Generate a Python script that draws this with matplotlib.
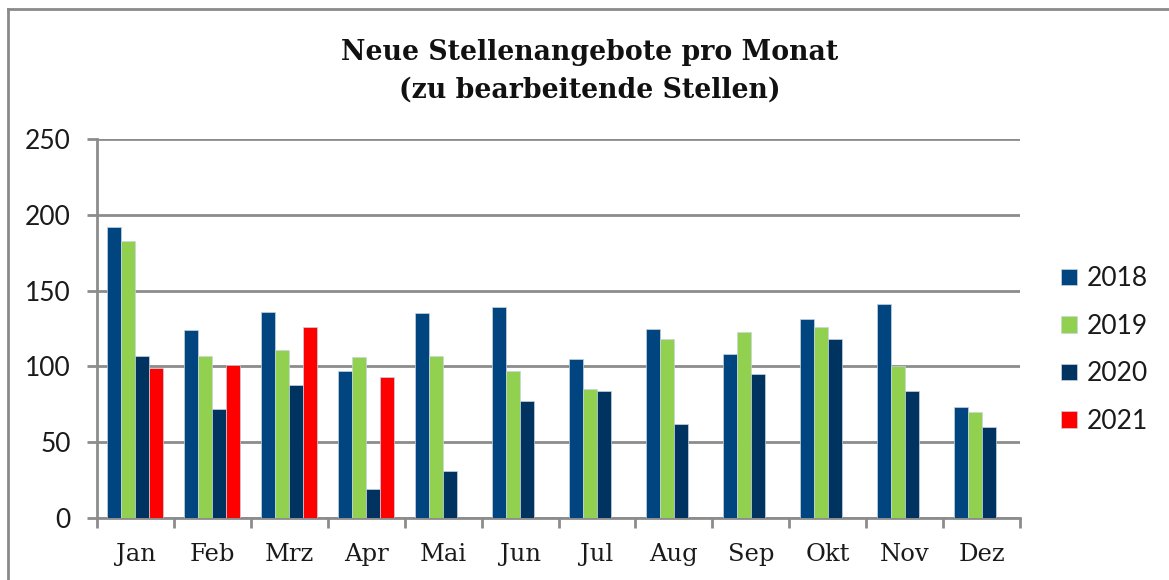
import numpy as np
import matplotlib
matplotlib.use("Agg")
import matplotlib.pyplot as plt
from matplotlib.lines import Line2D

months = ["Jan", "Feb", "Mrz", "Apr", "Mai", "Jun", "Jul", "Aug", "Sep", "Okt", "Nov", "Dez"]
years = ["2018", "2019", "2020", "2021"]
v2018 = [192, 124, 136, 97, 135, 139, 105, 125, 108, 131, 141, 73]
v2019 = [183, 107, 111, 106, 107, 97, 85, 118, 123, 126, 100, 70]
v2020 = [107, 72, 88, 19, 31, 77, 84, 62, 95, 118, 84, 60]
v2021 = [99, 101, 126, 93, np.nan, np.nan, np.nan, np.nan, np.nan, np.nan, np.nan, np.nan]
series = [v2018, v2019, v2020, v2021]
colors = ["#00457F", "#92D050", "#003360", "#FF0000"]

W, H = 1169, 580
fig = plt.figure(figsize=(W / 100, H / 100), dpi=100)
ax = fig.add_axes([97 / W, 1 - 518 / H, (1020 - 97) / W, (518 - 139) / H])

n = len(years)
gap = 1.5
bw = 1.0 / (n + gap)
x = np.arange(len(months))
for i, (vals, c, lab) in enumerate(zip(series, colors, years)):
    off = (i - (n - 1) / 2) * bw
    ax.bar(x + off, vals, width=bw, color=c, label=lab, edgecolor="#c8d4e0", linewidth=0.5, zorder=3)

ax.set_xlim(-0.5, len(months) - 0.5)
ax.set_ylim(0, 250)
ax.set_yticks([0, 50, 100, 150, 200, 250])
grid_c = "#8c8c8c"
ax.grid(axis="y", color=grid_c, linewidth=2.0, zorder=0)
ax.set_axisbelow(True)
for s in ["top", "right"]:
    ax.spines[s].set_visible(False)
for s in ["left", "bottom"]:
    ax.spines[s].set_color(grid_c)
    ax.spines[s].set_linewidth(2.0)

ax.set_xticks(x)
ax.set_xticklabels(months, family="DejaVu Serif", fontsize=17.5, color="#1a1a1a")
ax.set_xticks(np.arange(-0.5, len(months)), minor=True)
ax.tick_params(axis="x", which="major", length=0, pad=18)
ax.tick_params(axis="x", which="minor", length=7, width=2.0, color=grid_c, direction="out")
ax.tick_params(axis="y", length=7, width=2.0, color=grid_c, pad=12, labelsize=19, labelcolor="#1a1a1a")
for t in ax.get_yticklabels():
    t.set_family("Lato")

title_kw = dict(ha="center", va="center", family="DejaVu Serif", fontweight="bold",
                fontsize=19.3, color="#111111")
fig.text(590 / W, 1 - 52 / H, "Neue Stellenangebote pro Monat", **title_kw)
fig.text(590 / W, 1 - 90 / H, "(zu bearbeitende Stellen)", **title_kw)

leg = fig.legend(loc="center left", bbox_to_anchor=(1037 / W, 1 - 350 / H), frameon=False,
                 handlelength=0.6, handleheight=0.6, handletextpad=0.4, labelspacing=0.85,
                 prop={"family": "Lato", "size": 19})
for t in leg.get_texts():
    t.set_color("#1a1a1a")

# outer chart border (top and left)
bc = "#8a8a8a"
fig.add_artist(Line2D([8 / W, 1.0], [1 - 9 / H, 1 - 9 / H], color=bc, linewidth=2, transform=fig.transFigure))
fig.add_artist(Line2D([8 / W, 8 / W], [1 - 9 / H, 0.0], color=bc, linewidth=2, transform=fig.transFigure))

fig.savefig("out.png", dpi=100)
